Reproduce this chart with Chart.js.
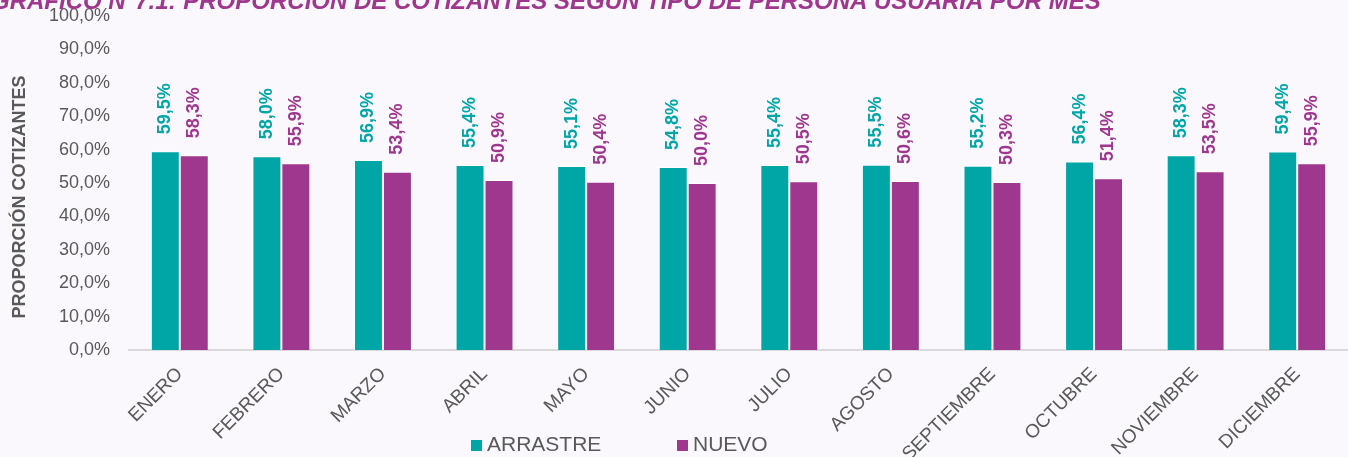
<!DOCTYPE html>
<html>
<head>
<meta charset="utf-8">
<script src="https://cdn.jsdelivr.net/npm/chart.js@4"></script>
<style>
  html, body { margin: 0; padding: 0; background: #FAF8FC; }
  #wrap { width: 1348px; height: 457px; position: relative; overflow: hidden; }
</style>
</head>
<body>
<div id="wrap"><canvas id="c" width="1348" height="457"></canvas></div>
<script>
const TITLE = 'GRÁFICO N°7.1: PROPORCIÓN DE COTIZANTES SEGÚN TIPO DE PERSONA USUARIA POR MES';
const Y_TITLE = 'PROPORCIÓN COTIZANTES';
const MONTHS = ['ENERO','FEBRERO','MARZO','ABRIL','MAYO','JUNIO','JULIO','AGOSTO','SEPTIEMBRE','OCTUBRE','NOVIEMBRE','DICIEMBRE'];
const ARRASTRE = [59.5, 58.0, 56.9, 55.4, 55.1, 54.8, 55.4, 55.5, 55.2, 56.4, 58.3, 59.4];
const NUEVO = [58.3, 55.9, 53.4, 50.9, 50.4, 50.0, 50.5, 50.6, 50.3, 51.4, 53.5, 55.9];
const SERIES_NAMES = ['ARRASTRE', 'NUEVO'];
const Y_TICKS = [0,10,20,30,40,50,60,70,80,90,100];

const TEAL = '#00A6A6';
const PURPLE = '#A0378F';
const GRAY = '#595959';
const FONT = '"Liberation Sans", Arial, sans-serif';

const fmt = v => v.toFixed(1).replace('.', ',') + '%';

const extras = {
  id: 'extras',
  afterDatasetsDraw(chart) {
    const ctx = chart.ctx;
    chart.data.datasets.forEach((ds, i) => {
      const meta = chart.getDatasetMeta(i);
      meta.data.forEach((bar, j) => {
        ctx.save();
        ctx.translate(bar.x, bar.y - 17);
        ctx.rotate(-Math.PI / 2);
        ctx.font = 'bold 18px ' + FONT;
        ctx.fillStyle = ds.backgroundColor;
        ctx.textAlign = 'left';
        ctx.textBaseline = 'middle';
        ctx.fillText(fmt(ds.data[j]), 0, 0);
        ctx.restore();
      });
    });
  },
  afterDraw(chart) {
    const ctx = chart.ctx;
    // title (clipped at top as in the reference)
    ctx.save();
    ctx.font = 'italic bold 24px ' + FONT;
    ctx.fillStyle = PURPLE;
    ctx.textAlign = 'left';
    ctx.textBaseline = 'alphabetic';
    ctx.fillText(TITLE, -9, 9);
    ctx.restore();
    // y-axis title
    ctx.save();
    ctx.translate(25, 197);
    ctx.rotate(-Math.PI / 2);
    ctx.font = 'bold 18px ' + FONT;
    ctx.fillStyle = GRAY;
    ctx.textAlign = 'center';
    ctx.textBaseline = 'alphabetic';
    ctx.fillText(Y_TITLE, 0, 0);
    ctx.restore();
    // legend
    const starts = [471, 677];
    ctx.save();
    ctx.font = '21px ' + FONT;
    ctx.textBaseline = 'alphabetic';
    chart.data.datasets.forEach((ds, i) => {
      ctx.fillStyle = ds.backgroundColor;
      ctx.fillRect(starts[i], 440, 11, 11);
      ctx.fillStyle = GRAY;
      ctx.fillText(ds.label, starts[i] + 16, 451);
    });
    ctx.restore();
  }
};

new Chart(document.getElementById('c'), {
  type: 'bar',
  data: {
    labels: MONTHS,
    datasets: [
      { label: SERIES_NAMES[0], data: ARRASTRE, backgroundColor: TEAL, borderColor: 'rgba(255,255,255,0.55)', borderWidth: 1, borderSkipped: 'bottom' },
      { label: SERIES_NAMES[1], data: NUEVO, backgroundColor: PURPLE, borderColor: 'rgba(255,255,255,0.55)', borderWidth: 1, borderSkipped: 'bottom' }
    ]
  },
  options: {
    responsive: false,
    animation: false,
    devicePixelRatio: 1,
    layout: { autoPadding: false, padding: { top: 16, left: 0, right: 0, bottom: 0 } },
    categoryPercentage: 0.57,
    barPercentage: 1.0,
    plugins: { legend: { display: false }, tooltip: { enabled: false }, title: { display: false } },
    scales: {
      x: {
        grid: { display: false, drawTicks: false },
        border: { display: true, color: '#D9D9D9', width: 2 },
        ticks: { color: GRAY, font: { family: FONT, size: 19 }, minRotation: 45, maxRotation: 45, autoSkip: false, padding: 13 },
        afterFit(s) { s.height = 107; }
      },
      y: {
        min: 0, max: 100,
        grid: { display: false, drawTicks: false },
        border: { display: false },
        afterBuildTicks(s) { s.ticks = Y_TICKS.map(v => ({ value: v })); },
        ticks: { color: GRAY, font: { family: FONT, size: 18 }, padding: 19, callback: v => fmt(v) },
        afterFit(s) { s.width = 129; s.paddingTop = 0; s.paddingBottom = 0; }
      }
    }
  },
  plugins: [extras]
});
</script>
</body>
</html>
